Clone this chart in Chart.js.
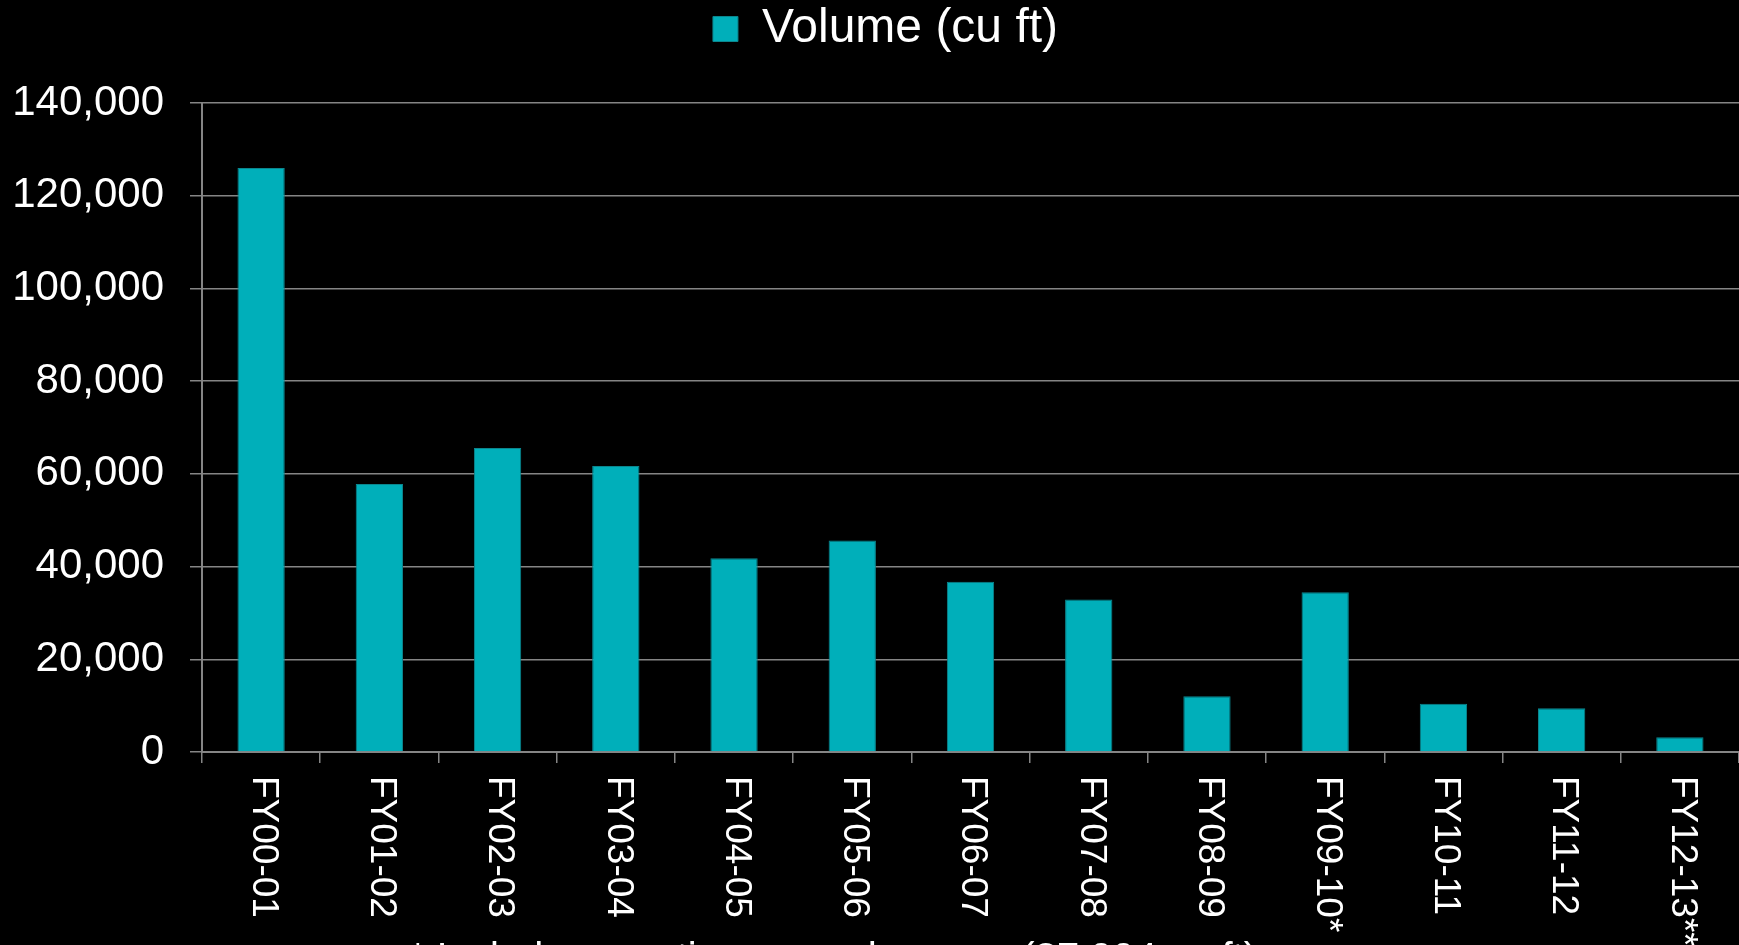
<!DOCTYPE html>
<html lang="en">
<head>
    <meta charset="UTF-8">
    <title>Volume (cu ft)</title>
    <script src="https://cdn.jsdelivr.net/npm/chart.js"></script>
    <style>
        html, body {
            margin: 0;
            padding: 0;
            background: #000;
            overflow: hidden;
        }
        #chartContainer {
            width: 1739px;
            height: 945px;
        }
    </style>
</head>
<body>

    <div id="chartContainer">
        <canvas id="myChart"></canvas>
    </div>

    <script>
        // Dados do gráfico
        const categories = ['FY00-01', 'FY01-02', 'FY02-03', 'FY03-04', 'FY04-05', 'FY05-06', 'FY06-07',
                            'FY07-08', 'FY08-09', 'FY09-10*', 'FY10-11', 'FY11-12', 'FY12-13**'];
        const volume = [126000, 57800, 65600, 61700, 41800, 45600, 36700, 32900, 12000, 34450, 10400, 9450, 3200];
        const yTicks = [0, 20000, 40000, 60000, 80000, 100000, 120000, 140000];
        const seriesLabel = 'Volume (cu ft)';
        const footnote = '* Includes one-time records purge (37,994 cu ft)';

        const FONT = '"Liberation Sans", Arial, sans-serif';
        const GRID = '#858585';

        // Legend keeps the space above the plot, item nudged right
        const legendSpace = {
            id: 'legendSpace',
            afterInit(chart) {
                const lg = chart.legend;
                const fit = lg.fit;
                lg.fit = function () {
                    fit.call(this);
                    this.height = 103;
                };
            },
            afterLayout(chart) {
                chart.legend.left += 16;
                chart.legend.right += 16;
            }
        };

        // Category labels read top to bottom, plus the footnote cut off at the bottom
        const xLabels = {
            id: 'xLabels',
            afterDraw(chart) {
                const ctx = chart.ctx;
                const x = chart.scales.x;
                ctx.save();
                ctx.fillStyle = '#fff';
                ctx.font = '37px ' + FONT;
                ctx.textAlign = 'left';
                ctx.textBaseline = 'middle';
                categories.forEach((c, i) => {
                    ctx.save();
                    ctx.translate(x.getPixelForTick(i) + 2, x.top + 24);
                    ctx.rotate(Math.PI / 2);
                    ctx.fillText(c, 0, 0);
                    ctx.restore();
                });
                ctx.font = '40px ' + FONT;
                ctx.textAlign = 'right';
                ctx.textBaseline = 'alphabetic';
                ctx.fillText(footnote, 1257, 971);
                ctx.restore();
            }
        };

        const ctx = document.getElementById('myChart').getContext('2d');
        const myChart = new Chart(ctx, {
            type: 'bar',
            data: {
                labels: categories,
                datasets: [{
                    label: seriesLabel,
                    data: volume,
                    backgroundColor: '#00AFBA',
                    borderColor: '#0B868E',
                    borderWidth: 1,
                    categoryPercentage: 1,
                    barPercentage: 0.4
                }]
            },
            options: {
                responsive: true,
                maintainAspectRatio: false,
                animation: false,
                layout: { padding: 0 },
                plugins: {
                    legend: {
                        position: 'top',
                        labels: {
                            color: '#fff',
                            font: { family: FONT, size: 48 },
                            boxWidth: 25,
                            boxHeight: 25,
                            padding: 5
                        }
                    },
                    tooltip: { enabled: false }
                },
                scales: {
                    x: {
                        afterFit: s => { s.height = 193; },
                        grid: {
                            drawOnChartArea: false,
                            drawTicks: true,
                            tickLength: 11,
                            color: GRID,
                            lineWidth: 1.5
                        },
                        border: { color: GRID, width: 2 },
                        ticks: { display: false }
                    },
                    y: {
                        min: 0,
                        max: 140000,
                        afterFit: s => { s.width = 202; },
                        afterBuildTicks: s => { s.ticks = yTicks.map(v => ({ value: v })); },
                        grid: {
                            color: GRID,
                            lineWidth: 1.5,
                            tickLength: 12
                        },
                        border: { color: GRID, width: 2 },
                        ticks: {
                            color: '#fff',
                            padding: 26,
                            font: { family: FONT, size: 42 },
                            callback: v => v.toLocaleString('en-US')
                        }
                    }
                }
            },
            plugins: [legendSpace, xLabels]
        });
    </script>

</body>
</html>
